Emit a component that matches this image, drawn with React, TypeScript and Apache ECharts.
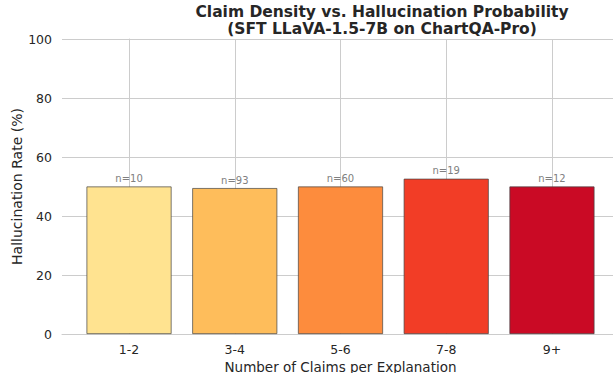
import React, { useEffect, useRef } from "react";
import * as echarts from "echarts";

const categories = ["1-2", "3-4", "5-6", "7-8", "9+"];
const rates = [50.0, 49.46, 50.0, 52.63, 50.0];
const counts = [10, 93, 60, 19, 12];
const colors = ["#FFE390", "#FEBD5B", "#FD8C3D", "#F23D26", "#CA0A25"];
const yTicks = [0, 20, 40, 60, 80, 100];
const titleLines = ["Claim Density vs. Hallucination Probability", "(SFT LLaVA-1.5-7B on ChartQA-Pro)"];

export default function App() {
  const ref = useRef<HTMLDivElement>(null);
  useEffect(() => {
    if (!ref.current) return;
    const chart = echarts.init(ref.current, null, { renderer: "svg" });
    const font = "DejaVu Sans";
    chart.setOption({
      animation: false,
      textStyle: { fontFamily: font },
      title: titleLines.map((t, i) => ({
        text: t,
        left: 382,
        textAlign: "center",
        top: i === 0 ? 4 : 20.5,
        padding: 0,
        textStyle: { fontFamily: font, fontSize: 15.5, fontWeight: "bold", color: "#262626", lineHeight: 16 },
      })),
      grid: { left: 62, top: 39, width: 557, bottom: 39, outerBoundsMode: "none", containLabel: false },
      xAxis: {
        type: "value",
        min: -0.634,
        max: 4.634,
        name: "Number of Claims per Explanation",
        nameLocation: "middle",
        nameGap: 25,
        nameMoveOverlap: false,
        nameTextStyle: { fontFamily: font, fontSize: 13.5, color: "#262626", lineHeight: 15 },
        axisLine: { show: true, lineStyle: { color: "#cccccc", width: 1 } },
        axisTick: { show: false, customValues: [0, 1, 2, 3, 4] },
        axisLabel: {
          customValues: [0, 1, 2, 3, 4],
          formatter: (v: number) => categories[Math.round(v)] ?? "",
          fontFamily: font,
          fontSize: 12.5,
          color: "#262626",
          margin: 9,
        },
        splitLine: { show: false },
      },
      yAxis: {
        type: "value",
        min: 0,
        max: 100,
        interval: 20,
        name: "Hallucination Rate (%)",
        nameLocation: "middle",
        nameGap: 38,
        nameMoveOverlap: false,
        nameTextStyle: { fontFamily: font, fontSize: 14, color: "#262626" },
        axisLine: { show: true, lineStyle: { color: "#cccccc", width: 1 } },
        axisTick: { show: false },
        axisLabel: {
          fontFamily: font,
          fontSize: 12.5,
          color: "#262626",
          margin: 10,
          formatter: (v: number) => (yTicks.includes(v) ? String(v) : ""),
        },
        splitLine: { show: true, lineStyle: { color: "#cccccc", width: 1 } },
      },
      series: [
        {
          type: "bar",
          barWidth: 85,
          data: rates.map((r, i) => ({
            value: [i, r],
            itemStyle: { color: colors[i], borderColor: "#444444", borderWidth: 0.7 },
          })),
          label: {
            show: true,
            position: "top",
            distance: 3,
            formatter: (p: any) => "n=" + counts[p.dataIndex],
            fontFamily: font,
            fontSize: 10,
            color: "#808080",
          },
          markLine: {
            silent: true,
            symbol: "none",
            label: { show: false },
            lineStyle: { color: "#cccccc", width: 1, type: "solid" },
            data: categories.map((_, i) => ({ xAxis: i })),
            z: 0,
          },
          z: 2,
        },
      ],
    });
    return () => chart.dispose();
  }, []);
  return <div ref={ref} style={{ width: 613, height: 373, position: "absolute", left: 0, top: 0 }} />;
}
